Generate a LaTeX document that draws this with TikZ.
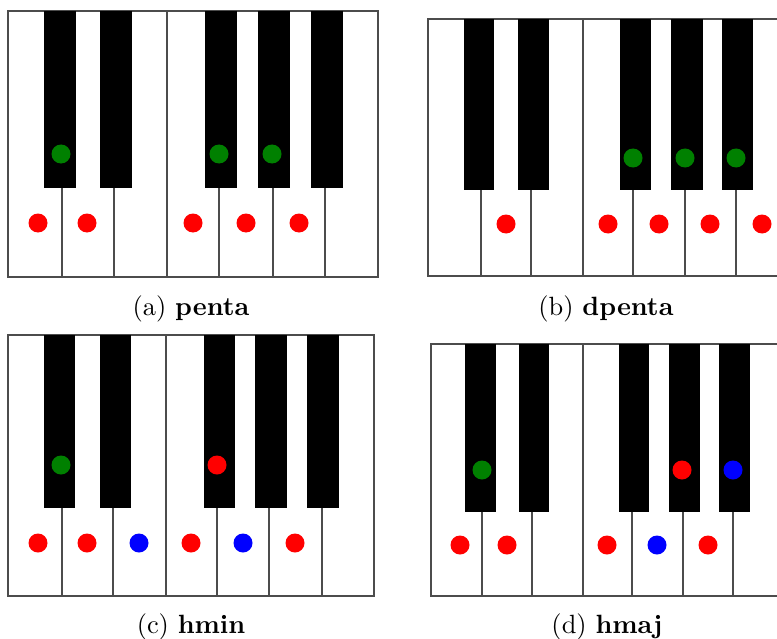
\documentclass[tikz,border=0pt]{standalone}
\begin{document}
\begin{tikzpicture}[x=0.75pt,y=-0.75pt,
  keyline/.style={draw=black!70,line width=1.1pt},
  blackkey/.style={fill=black},
  dotr/.style={fill=red},
  dotg/.style={fill=green!50!black},
  dotb/.style={fill=blue},
  captext/.style={anchor=base,scale=1.98,inner sep=0pt}]
\useasboundingbox (0,0) rectangle (777,638);
\clip (0,0) rectangle (777,638);
\def\R{9.5}
% ---------- (a)
\draw[keyline] (8,11) rectangle (378,277);
\foreach \x in {62,114,219,273,325} \draw[keyline] (\x,188) -- (\x,277);
\draw[keyline] (167,11) -- (167,277);
\foreach \a/\b in {44/76,100/132,205/237,258/290,311/343} \fill[blackkey] (\a,11) rectangle (\b,188);
\foreach \x in {61,219,272} \fill[dotg] (\x,154) circle (\R);
\foreach \x in {38,87,193,246,299} \fill[dotr] (\x,223) circle (\R);
\node[captext] (capa) at (191,315) {(a) \textbf{penta}};
% ---------- (b)
\draw[keyline] (428,19) rectangle (787,276);
\foreach \x in {481,531,633,685,736} \draw[keyline] (\x,190) -- (\x,276);
\draw[keyline] (583,19) -- (583,276);
\foreach \a/\b in {464/494,518/549,620/651,671/703,722/753} \fill[blackkey] (\a,19) rectangle (\b,190);
\foreach \x in {633,685,736} \fill[dotg] (\x,158) circle (\R);
\foreach \x in {506,608,659,710,762} \fill[dotr] (\x,224) circle (\R);
\node[captext] (capb) at (606,315) {(b) \textbf{dpenta}};
% ---------- (c)
\draw[keyline] (8,335) rectangle (374,596);
\foreach \x in {62,113,217,269,322} \draw[keyline] (\x,508) -- (\x,596);
\draw[keyline] (166,335) -- (166,596);
\foreach \a/\b in {44/75,100/131,204/235,255/287,307/339} \fill[blackkey] (\a,335) rectangle (\b,508);
\fill[dotg] (61,465) circle (\R);
\fill[dotr] (217,465) circle (\R);
\foreach \x in {38,87,191,295} \fill[dotr] (\x,543) circle (\R);
\foreach \x in {139,243} \fill[dotb] (\x,543) circle (\R);
\node[captext] (capc) at (191,633) {(c) \textbf{hmin}};
% ---------- (d)
\draw[keyline] (431,344) rectangle (785,596);
\foreach \x in {482,532,632,683,733} \draw[keyline] (\x,512) -- (\x,596);
\draw[keyline] (583,344) -- (583,596);
\foreach \a/\b in {465/496,519/549,619/649,669/700,719/750} \fill[blackkey] (\a,344) rectangle (\b,512);
\fill[dotg] (482,470) circle (\R);
\fill[dotr] (682,470) circle (\R);
\fill[dotb] (733,470) circle (\R);
\foreach \x in {460,507,607,708} \fill[dotr] (\x,545) circle (\R);
\fill[dotb] (657,545) circle (\R);
\node[captext] (capd) at (607,633) {(d) \textbf{hmaj}};
\end{tikzpicture}
\end{document}
